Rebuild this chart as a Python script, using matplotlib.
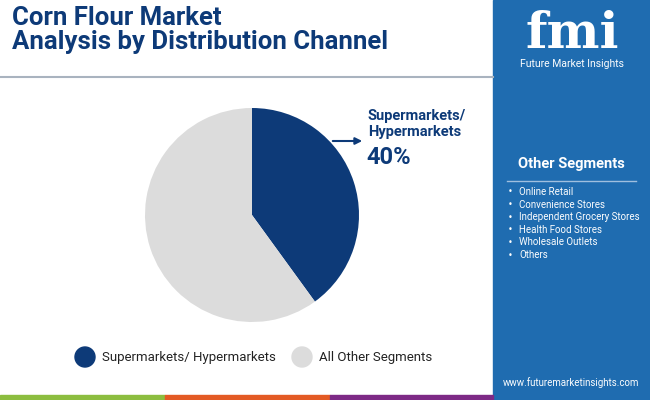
import matplotlib
matplotlib.use("Agg")
import matplotlib.pyplot as plt
from matplotlib.patches import Rectangle

categories = ["Supermarkets/ Hypermarkets", "All Other Segments"]
values = [40, 60]
other_segments = ["Online Retail", "Convenience Stores", "Independent Grocery Stores",
                  "Health Food Stores", "Wholesale Outlets", "Others"]
colors = ["#0d3a78", "#dcdcdc"]
blue = "#1f6cb0"

W, H = 650, 400
fig = plt.figure(figsize=(W/100, H/100), dpi=100)
bg = fig.add_axes([0, 0, 1, 1]); bg.set_xlim(0, W); bg.set_ylim(H, 0); bg.axis("off")
bg.add_patch(Rectangle((493, 0), 157, 400, color=blue))
bg.plot([0, 493], [77, 77], color="#a9b3bf", lw=1.5)
bg.plot([507, 636], [181, 181], color="#9fbfdf", lw=1)
for x0, x1, c in [(0, 165, "#8cbd3f"), (165, 330, "#e35a24"), (330, 493, "#7d2a86")]:
    bg.add_patch(Rectangle((x0, 395), x1-x0, 5, color=c))

bg.text(12, 6, "Corn Flour Market\nAnalysis by Distribution Channel", color="#0d3a78",
        fontsize=18.5, fontweight="bold", va="top", family="Roboto", linespacing=1.0)
bg.text(572, 64, "Future Market Insights", color="white", fontsize=7.5, ha="center", va="center", family="Roboto")
bg.text(572, 35, "fmi", color="white", fontsize=36, fontweight="bold", ha="center", va="center", family="DejaVu Serif")
bg.text(571, 164, "Other Segments", color="white", fontsize=10.5, fontweight="bold", ha="center", va="center", family="Roboto")
for i, s in enumerate(other_segments):
    y = 192 + i*12.6
    bg.text(508, y, "•", color="white", fontsize=6, va="center")
    bg.text(519, y, s, color="white", fontsize=7, va="center", family="Roboto")
bg.text(571, 383, "www.futuremarketinsights.com", color="white", fontsize=7, ha="center", va="center", family="Roboto")

bg.text(368, 124, "Supermarkets/\nHypermarkets", color="#0d3a78", fontsize=10.5, fontweight="bold",
        va="center", family="Roboto", linespacing=1.1)
bg.text(366, 158, f"{values[0]}%", color="#0d3a78", fontsize=17, fontweight="bold", va="center", family="Roboto")
bg.annotate("", xy=(365, 141), xytext=(330, 141),
            arrowprops=dict(arrowstyle="-|>", color="#0d3a78", lw=1.5))

R = 107
ax = fig.add_axes([(252-R)/W, 1-(215+R)/H, 2*R/W, 2*R/H])
ax.pie(values, colors=colors, startangle=90, counterclock=False, radius=1)
ax.set_xlim(-1, 1); ax.set_ylim(-1, 1)
ax.set_aspect("equal")

for i, (lab, c) in enumerate(zip(categories, colors)):
    x = [85, 302][i]
    bg.add_patch(plt.Circle((x, 357), 10, color=c))
    bg.text(x+17, 357, lab, fontsize=9.5, va="center", color="#222222", family="Roboto")

fig.savefig("out.png", dpi=100)
